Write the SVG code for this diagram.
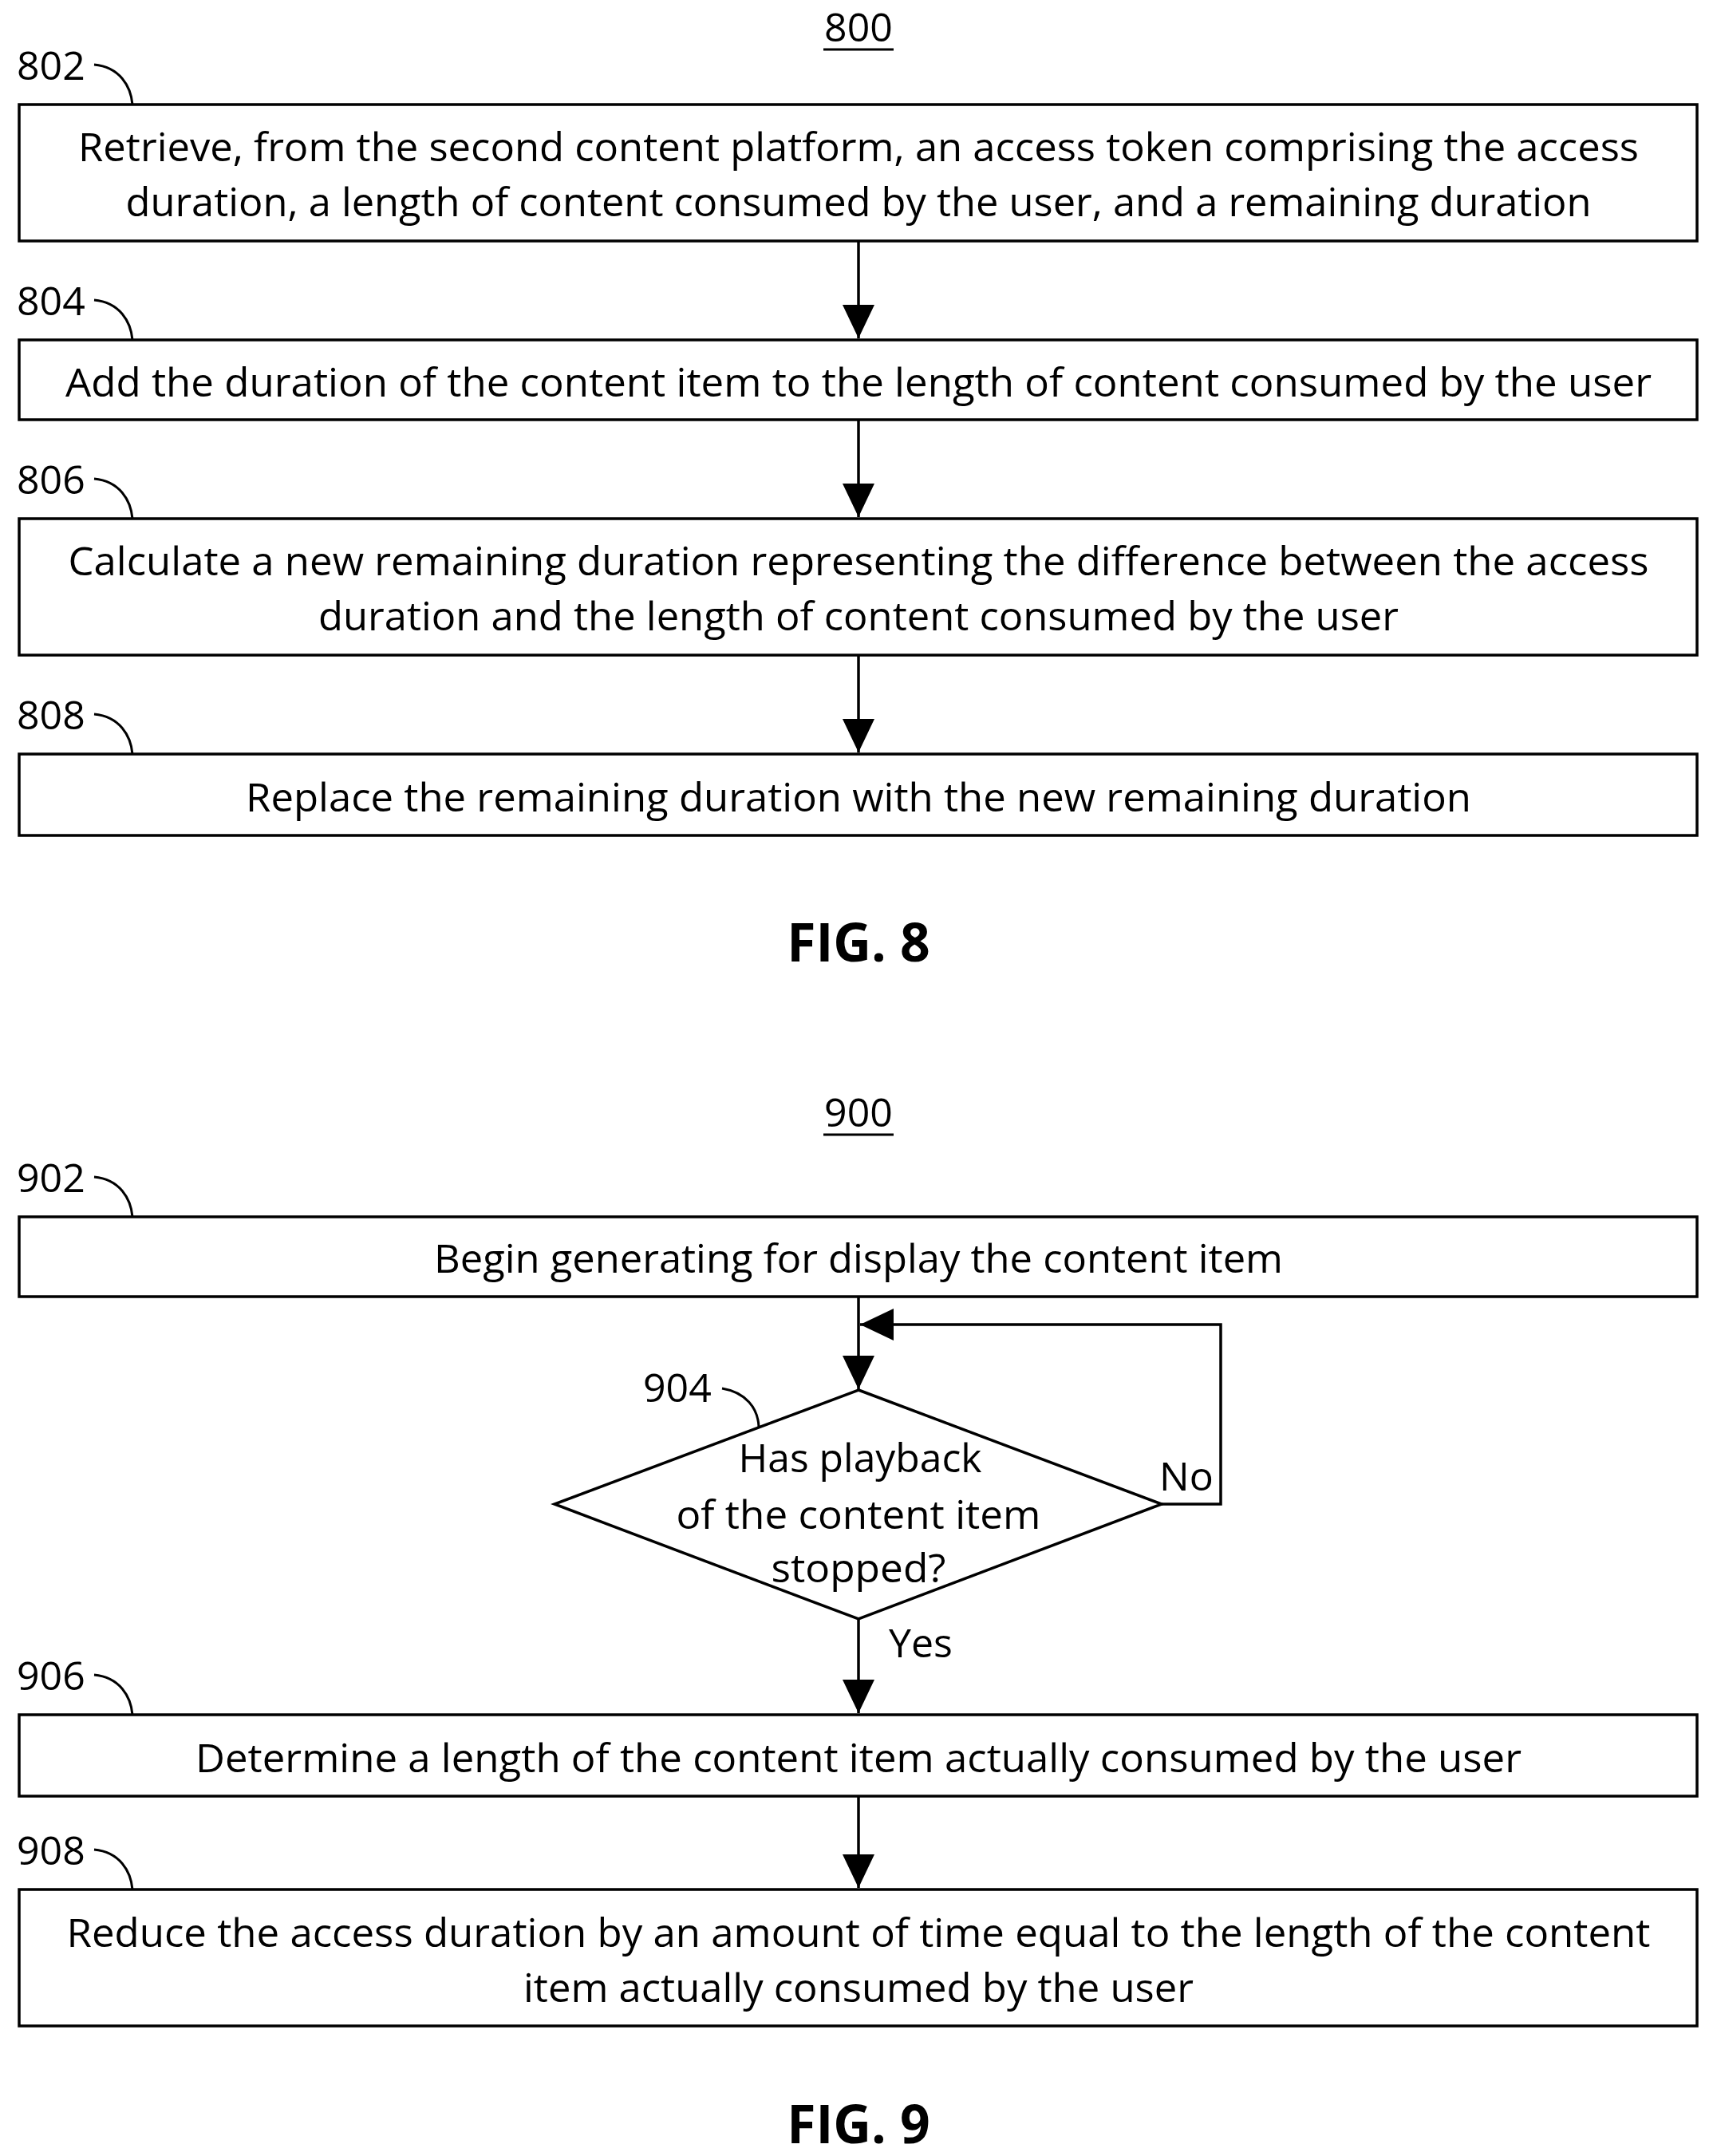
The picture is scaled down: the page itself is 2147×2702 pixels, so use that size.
<svg xmlns="http://www.w3.org/2000/svg" width="2147" height="2702" viewBox="0 0 2147 2702">
<style>
.b{fill:#fff;stroke:#000;stroke-width:3.5}
.t{font-family:"Open Sans","Liberation Sans",sans-serif;font-size:50px;fill:#000}
.c{text-anchor:middle}
.l{fill:none;stroke:#000;stroke-width:3}
.k{fill:none;stroke:#000;stroke-width:3.5}
.f{font-family:"Open Sans","Liberation Sans",sans-serif;font-size:66px;font-weight:bold;text-anchor:middle}
</style>
<defs><marker id="a" markerWidth="10" markerHeight="10" refX="10" refY="5" orient="auto" markerUnits="userSpaceOnUse" viewBox="0 0 10 10" style="overflow:visible"><path d="M-32,-15 L10,5 L-32,25 Z" transform="translate(0,0)"/></marker></defs>
<rect width="2147" height="2702" fill="#fff"/>
<g id="title800"><text class="t c" x="1076" y="52">800</text><line x1="1032" y1="62" x2="1120" y2="62" stroke="#000" stroke-width="3"/></g>
<g id="n802"><rect class="b" x="24" y="131" width="2103" height="171"/><text class="t c" x="1076" y="202" textLength="1956" lengthAdjust="spacingAndGlyphs">Retrieve, from the second content platform, an access token comprising the access</text><text class="t c" x="1076" y="271" textLength="1837" lengthAdjust="spacingAndGlyphs">duration, a length of content consumed by the user, and a remaining duration</text><text class="t" x="21" y="100">802</text><path class="l" d="M118,81 C150,84 164,108 166,131"/></g>
<g id="n804"><rect class="b" x="24" y="426" width="2103" height="100"/><text class="t c" x="1076" y="497" textLength="1988" lengthAdjust="spacingAndGlyphs">Add the duration of the content item to the length of content consumed by the user</text><text class="t" x="21" y="395">804</text><path class="l" d="M118,376 C150,379 164,403 166,426"/></g>
<g id="n806"><rect class="b" x="24" y="650" width="2103" height="171"/><text class="t c" x="1076" y="721" textLength="1981" lengthAdjust="spacingAndGlyphs">Calculate a new remaining duration representing the difference between the access</text><text class="t c" x="1076" y="790" textLength="1354" lengthAdjust="spacingAndGlyphs">duration and the length of content consumed by the user</text><text class="t" x="21" y="619">806</text><path class="l" d="M118,600 C150,603 164,627 166,650"/></g>
<g id="n808"><rect class="b" x="24" y="945" width="2103" height="102"/><text class="t c" x="1076" y="1017" textLength="1536" lengthAdjust="spacingAndGlyphs">Replace the remaining duration with the new remaining duration</text><text class="t" x="21" y="914">808</text><path class="l" d="M118,895 C150,898 164,922 166,945"/></g>
<text class="f" x="1076" y="1205">FIG. 8</text>
<g id="title900"><text class="t c" x="1076" y="1412">900</text><line x1="1032" y1="1422" x2="1120" y2="1422" stroke="#000" stroke-width="3"/></g>
<g id="n902"><rect class="b" x="24" y="1525" width="2103" height="100"/><text class="t c" x="1076" y="1595" textLength="1064" lengthAdjust="spacingAndGlyphs">Begin generating for display the content item</text><text class="t" x="21" y="1494">902</text><path class="l" d="M118,1475 C150,1478 164,1502 166,1525"/></g>
<g id="n904"><polygon class="b" points="1076,1742 1456,1885 1076,2029 695,1885"/><text class="t c" x="1078" y="1845" textLength="305" lengthAdjust="spacingAndGlyphs">Has playback</text><text class="t c" x="1076" y="1916" textLength="457" lengthAdjust="spacingAndGlyphs">of the content item</text><text class="t c" x="1076" y="1983" textLength="219" lengthAdjust="spacingAndGlyphs">stopped?</text><text class="t" x="806" y="1757">904</text><path class="l" d="M905,1740 C935,1745 950,1765 951,1788"/></g>
<g id="n906"><rect class="b" x="24" y="2149" width="2103" height="102"/><text class="t c" x="1076" y="2221" textLength="1662" lengthAdjust="spacingAndGlyphs">Determine a length of the content item actually consumed by the user</text><text class="t" x="21" y="2118">906</text><path class="l" d="M118,2099 C150,2102 164,2126 166,2149"/></g>
<g id="n908"><rect class="b" x="24" y="2368" width="2103" height="171"/><text class="t c" x="1076" y="2440" textLength="1985" lengthAdjust="spacingAndGlyphs">Reduce the access duration by an amount of time equal to the length of the content</text><text class="t c" x="1076" y="2509" textLength="840" lengthAdjust="spacingAndGlyphs">item actually consumed by the user</text><text class="t" x="21" y="2337">908</text><path class="l" d="M118,2318 C150,2321 164,2345 166,2368"/></g>
<text class="f" x="1076" y="2686">FIG. 9</text>
<g id="connectors">
<line class="k" x1="1076" y1="302" x2="1076" y2="424" marker-end="url(#a)"/>
<line class="k" x1="1076" y1="526" x2="1076" y2="648" marker-end="url(#a)"/>
<line class="k" x1="1076" y1="821" x2="1076" y2="943" marker-end="url(#a)"/>
<line class="k" x1="1076" y1="1625" x2="1076" y2="1741" marker-end="url(#a)"/>
<polyline class="k" points="1456,1885 1530,1885 1530,1660 1078,1660" marker-end="url(#a)"/>
<line class="k" x1="1076" y1="2029" x2="1076" y2="2147" marker-end="url(#a)"/>
<line class="k" x1="1076" y1="2251" x2="1076" y2="2366" marker-end="url(#a)"/>
<text class="t" x="1453" y="1868">No</text>
<text class="t" x="1114" y="2077">Yes</text>
</g>
</svg>
